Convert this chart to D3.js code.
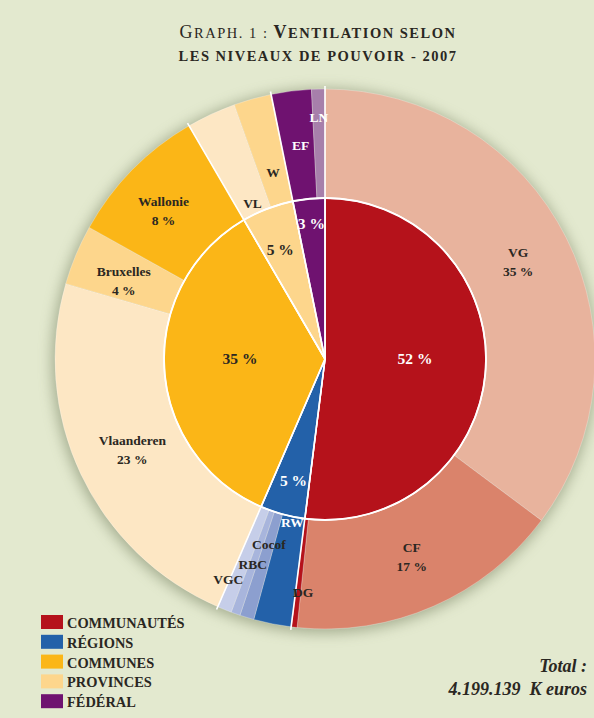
<!DOCTYPE html>
<html><head><meta charset="utf-8">
<script src="https://cdn.jsdelivr.net/npm/d3@7"></script>
<style>html,body{margin:0;padding:0;background:#e3e9cf;} svg{display:block}</style>
</head><body>
<svg id="chart" width="594" height="718"></svg>
<script>
// ---- data ----
const groups = ["COMMUNAUTÉS", "RÉGIONS", "COMMUNES", "PROVINCES", "FÉDÉRAL"];
const groupValues = [52.0, 4.5, 35.1, 5.2, 3.2];
const groupLabels = ["52 %", "5 %", "35 %", "5 %", "3 %"];
const subNames = ["VG", "CF", "DG", "RW", "Cocof", "RBC", "VGC", "Vlaanderen", "Bruxelles", "Wallonie", "VL", "W", "EF", "LN"];
const subGroup = [0, 0, 0, 1, 1, 1, 1, 2, 2, 2, 3, 3, 4, 4];
const subValues = [35.2, 16.45, 0.35, 2.25, 0.85, 0.55, 0.85, 23.0, 3.6, 8.5, 2.95, 2.25, 2.4, 0.8];
const subPercents = ["35 %", "17 %", "", "", "", "", "", "23 %", "4 %", "8 %", "", "", "", ""];
// title pieces: [text, big capital?, bold?]
const titleLine1 = [["G", true, false], ["RAPH. 1 : ", false, false], ["V", true, true], ["ENTILATION SELON", false, true]];
const titleLine2 = "LES NIVEAUX DE POUVOIR - 2007";
const totalLines = ["Total :", "4.199.139\u00a0\u00a0K euros"];

// ---- styles ----
const groupColors = ["#b5121b", "#2361a9", "#fbb617", "#fdd68c", "#6f1270"];
const subColors = {VG:"#e8b39d", CF:"#da836b", DG:"#b5121b", RW:"#2361a9", Cocof:"#8c9fcf", RBC:"#a8b5dc", VGC:"#c6cee9",
  Vlaanderen:"#fde7c4", Bruxelles:"#fdd68c", Wallonie:"#fbb617", VL:"#fde7c4", W:"#fdd68c", EF:"#6f1270", LN:"#a77fab"};
const whiteText = new Set(["EF", "LN", "RW"]);
const groupTextWhite = [true, true, false, false, true];
const subLabelR = {VG:216, CF:216, DG:235, RW:167, Cocof:194, RBC:218, VGC:241, Vlaanderen:213, Bruxelles:216, Wallonie:219, VL:172, W:194, EF:215, LN:242};
const subLabelDA = {VGC:1.8, DG:-1.2, Wallonie:-2, Bruxelles:-1.4, EF:0.7};
const groupLabelR = [90, 126, 85, 118, 136];
const groupLabelDA = [-3.6, -0.8, 3.4, -1.4, 0];

const cx = 325, cy = 359, rIn = 161, rOut = 270;
const svg = d3.select("#chart");
const font = "'Liberation Serif', 'DejaVu Serif', serif";
const dark = "#2a2722";

// shadow
const defs = svg.append("defs");
const f = defs.append("filter").attr("id", "blur").attr("x", "-30%").attr("y", "-30%").attr("width", "160%").attr("height", "160%");
f.append("feGaussianBlur").attr("stdDeviation", 7);

const g = svg.append("g").attr("transform", `translate(${cx},${cy})`);
g.append("circle").attr("r", rOut + 2).attr("cx", -1).attr("cy", 2).attr("fill", "#6f7a5a").attr("opacity", 0.55).attr("filter", "url(#blur)");

const pie = d3.pie().sort(null).value(d => d).startAngle(0).endAngle(2 * Math.PI);
const innerArcs = pie(groupValues);
const outerArcs = pie(subValues);

const arcOuter = d3.arc().innerRadius(rIn).outerRadius(rOut);
const arcInner = d3.arc().innerRadius(0).outerRadius(rIn);

g.selectAll("path.outer").data(outerArcs).join("path")
  .attr("class", "outer")
  .attr("d", arcOuter)
  .attr("fill", (d, i) => subColors[subNames[i]])
  .attr("stroke", "rgba(255,255,255,0.45)")
  .attr("stroke-width", 0.6);

g.selectAll("path.inner").data(innerArcs).join("path")
  .attr("class", "inner")
  .attr("d", arcInner)
  .attr("fill", (d, i) => groupColors[i])
  .attr("stroke", "#fff")
  .attr("stroke-width", 1.5)
  .attr("stroke-linejoin", "round");

g.append("circle").attr("r", rIn).attr("fill", "none").attr("stroke", "#fff").attr("stroke-width", 1.8);

g.selectAll("line.sep").data(innerArcs).join("line")
  .attr("class", "sep")
  .attr("x1", 0).attr("y1", 0)
  .attr("x2", d => Math.sin(d.startAngle) * (rOut + 3))
  .attr("y2", d => -Math.cos(d.startAngle) * (rOut + 3))
  .attr("stroke", "#fff").attr("stroke-width", 1.6);

function polar(angleRad, r) { return [Math.sin(angleRad) * r, -Math.cos(angleRad) * r]; }
const deg = Math.PI / 180;

outerArcs.forEach((d, i) => {
  const name = subNames[i];
  const a = (d.startAngle + d.endAngle) / 2 + (subLabelDA[name] || 0) * deg;
  const [x, y] = polar(a, subLabelR[name]);
  const col = whiteText.has(name) ? "#fff" : dark;
  const t = g.append("text").attr("text-anchor", "middle").attr("font-family", font)
    .attr("font-weight", "bold").attr("font-size", 13.5).attr("fill", col);
  if (subPercents[i]) {
    t.append("tspan").attr("x", x).attr("y", y - 5).text(name);
    t.append("tspan").attr("x", x).attr("y", y + 14).text(subPercents[i]);
  } else {
    t.attr("x", x).attr("y", y + 4.5).text(name);
  }
});

innerArcs.forEach((d, i) => {
  const a = (d.startAngle + d.endAngle) / 2 + groupLabelDA[i] * deg;
  const [x, y] = polar(a, groupLabelR[i]);
  g.append("text").attr("x", x).attr("y", y + 5).attr("text-anchor", "middle")
    .attr("font-family", font).attr("font-weight", "bold").attr("font-size", 15.5)
    .attr("fill", groupTextWhite[i] ? "#fff" : dark).text(groupLabels[i]);
});

// title
const t1 = svg.append("text").attr("x", 318).attr("y", 38).attr("text-anchor", "middle")
  .attr("font-family", font).attr("fill", dark).attr("xml:space", "preserve")
  .attr("letter-spacing", 1.5);
titleLine1.forEach(([s, big, bold]) => {
  t1.append("tspan").attr("font-size", big ? 18 : 14.5).attr("font-weight", bold ? "bold" : "normal").text(s);
});
svg.append("text").attr("x", 318).attr("y", 61).attr("text-anchor", "middle")
  .attr("font-family", font).attr("font-size", 14.5).attr("font-weight", "bold").attr("fill", dark)
  .attr("letter-spacing", 1.5).text(titleLine2);

// legend
const leg = svg.append("g");
const ly = d3.scaleBand().domain(groups).range([615, 714]).paddingInner(0);
groups.forEach((name, i) => {
  leg.append("rect").attr("x", 41).attr("y", ly(name)).attr("width", 22).attr("height", 14).attr("fill", groupColors[i]);
  leg.append("text").attr("x", 67).attr("y", ly(name) + 13).attr("font-family", font)
    .attr("font-weight", "bold").attr("font-size", 14.4).attr("fill", dark).text(name);
});

// total
totalLines.forEach((s, i) => {
  svg.append("text").attr("x", 587).attr("y", 672 + i * 23).attr("text-anchor", "end")
    .attr("font-family", font).attr("font-weight", "bold").attr("font-style", "italic")
    .attr("font-size", 18).attr("fill", dark).text(s);
});
</script>
</body></html>
